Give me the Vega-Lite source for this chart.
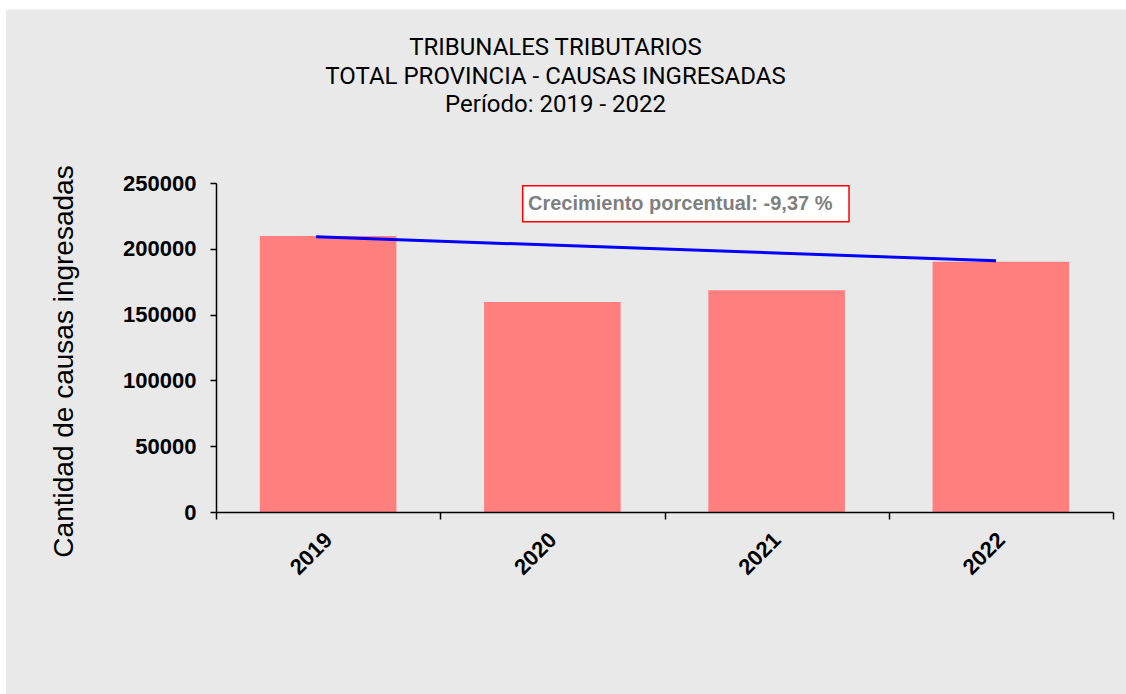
{
  "$schema": "https://vega.github.io/schema/vega-lite/v6.json",
  "width": 897,
  "height": 329,
  "autosize": {"type": "none"},
  "padding": {"left": 216, "top": 183, "right": 13, "bottom": 182},
  "background": "white",
  "config": {"view": {"stroke": null}},
  "title": {
    "text": ["TRIBUNALES TRIBUTARIOS", "TOTAL PROVINCIA - CAUSAS INGRESADAS", "Período: 2019 - 2022"],
    "font": "Roboto",
    "fontSize": 24,
    "fontWeight": "normal",
    "color": "black",
    "lineHeight": 28.5,
    "anchor": "middle",
    "frame": "group",
    "dx": -109,
    "offset": -108,
    "zindex": 2
  },
  "data": {"values": [
    {"anio": "2019", "causas": 209800},
    {"anio": "2020", "causas": 159600},
    {"anio": "2021", "causas": 168500},
    {"anio": "2022", "causas": 190140}
  ]},
  "layer": [
    {
      "data": {"values": [{}]},
      "mark": {"type": "rect", "color": "#e9e9e9", "clip": false},
      "encoding": {
        "x": {"datum": -0.234, "type": "quantitative", "scale": {"domain": [0, 1], "nice": false, "zero": false}, "axis": null},
        "x2": {"datum": 1.03},
        "y": {"datum": 381900, "type": "quantitative", "scale": {"domain": [0, 250000], "nice": false}},
        "y2": {"datum": -140000}
      }
    },
    {
      "mark": {"type": "bar", "color": "#ff7f7f", "width": {"band": 0.609}},
      "encoding": {
        "x": {
          "field": "anio", "type": "ordinal",
          "scale": {"paddingInner": 0, "paddingOuter": 0},
          "axis": {
            "title": null, "labelAngle": -45, "labelFont": "Liberation Sans", "labelFontSize": 22,
            "labelFontWeight": "bold", "labelColor": "black", "labelPadding": 17,
            "labelAlign": "right", "labelBaseline": "middle", "tickBand": "extent",
            "tickSize": 7, "tickColor": "black", "tickWidth": 1.5, "domainColor": "black", "domainWidth": 1.5,
            "zindex": 1
          }
        },
        "y": {
          "field": "causas", "type": "quantitative",
          "scale": {"domain": [0, 250000], "nice": false},
          "axis": {
            "title": "Cantidad de causas ingresadas", "titleFont": "Liberation Sans", "titleFontSize": 28,
            "titleFontWeight": "normal", "titleColor": "black", "titlePadding": 44, "titleY": 178,
            "values": [0, 50000, 100000, 150000, 200000, 250000], "format": "d",
            "labelFont": "Liberation Sans", "labelFontSize": 22, "labelFontWeight": "bold", "labelColor": "black",
            "labelPadding": 14, "tickSize": 6, "tickColor": "black", "tickWidth": 1.5,
            "domainColor": "black", "domainWidth": 1.5, "grid": false, "zindex": 1
          }
        }
      }
    },
    {
      "data": {"values": [{}]},
      "layer": [
        {
          "mark": {"type": "rule", "color": "#0000ff", "strokeWidth": 3},
          "encoding": {
            "x": {"datum": 0.1115, "type": "quantitative", "scale": {"domain": [0, 1], "nice": false, "zero": false}, "axis": null},
            "x2": {"datum": 0.8696},
            "y": {"datum": 209100, "type": "quantitative"},
            "y2": {"datum": 190900}
          }
        },
        {
          "mark": {"type": "rect", "fill": "white", "stroke": "#ff0000", "strokeWidth": 1.5},
          "encoding": {
            "x": {"datum": 0.3419, "type": "quantitative"},
            "x2": {"datum": 0.7057},
            "y": {"datum": 247900, "type": "quantitative"},
            "y2": {"datum": 220500}
          }
        },
        {
          "mark": {"type": "text", "align": "left", "baseline": "middle", "font": "Liberation Sans", "fontSize": 20, "fontWeight": "bold", "color": "#7f7f7f", "text": "Crecimiento porcentual: -9,37 %"},
          "encoding": {
            "x": {"datum": 0.3478, "type": "quantitative"},
            "y": {"datum": 234200, "type": "quantitative"}
          }
        }
      ]
    }
  ],
  "resolve": {"scale": {"x": "independent"}, "axis": {"x": "independent"}}
}
